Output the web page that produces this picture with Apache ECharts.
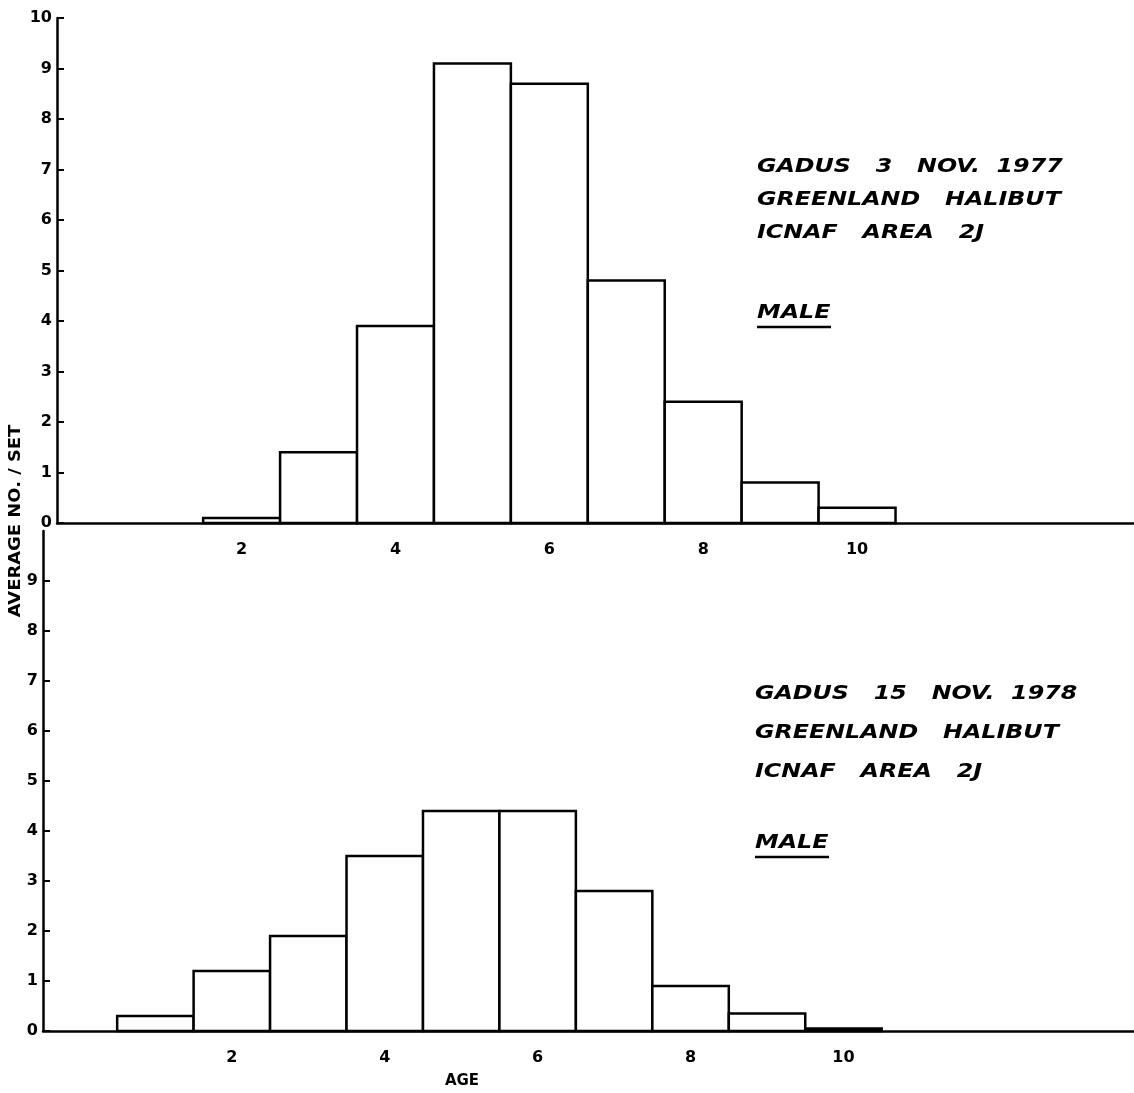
<!DOCTYPE html>
<html>
<head>
<meta charset="utf-8">
<script src="https://cdn.jsdelivr.net/npm/echarts@6/dist/echarts.min.js"></script>
<style>html,body{margin:0;padding:0;background:#fff;}#c{width:1134px;height:1093px;}</style>
</head>
<body>
<div id="c"></div>
<script>
// ---- data ----
const ages = [1, 2, 3, 4, 5, 6, 7, 8, 9, 10];
const male1977 = [null, 0.1, 1.4, 3.9, 9.1, 8.7, 4.8, 2.4, 0.8, 0.3];
const male1978 = [0.3, 1.2, 1.9, 3.5, 4.4, 4.4, 2.8, 0.9, 0.35, 0.05];
const ageTickLabels = [2, 4, 6, 8, 10];
const yTicksTop = [0, 1, 2, 3, 4, 5, 6, 7, 8, 9, 10];
const yTicksBottom = [0, 1, 2, 3, 4, 5, 6, 7, 8, 9];
const yTitle = 'AVERAGE NO. / SET';
const xTitle = 'AGE';
const note1977 = ['GADUS   3   NOV.  1977', 'GREENLAND   HALIBUT', 'ICNAF   AREA   2J'];
const note1978 = ['GADUS   15   NOV.  1978', 'GREENLAND   HALIBUT', 'ICNAF   AREA   2J'];
const sexLabel = 'MALE';

const FONT = '"DejaVu Sans", "Liberation Sans", sans-serif';

function toPairs(vals) {
  return ages.map((a, i) => [a, vals[i]]).filter(d => d[1] != null);
}

function renderBar(params, api) {
  const x = api.value(0), v = api.value(1);
  const p0 = api.coord([x - 0.5, v]);
  const p1 = api.coord([x + 0.5, 0]);
  return {
    type: 'rect',
    shape: { x: p0[0], y: p0[1], width: p1[0] - p0[0], height: p1[1] - p0[1] },
    style: { fill: '#fff', stroke: '#000', lineWidth: 2.5 }
  };
}

const axisLabelStyle = { color: '#000', fontFamily: FONT, fontWeight: 'bold', fontSize: 16 };

function xAxisCfg(gi, min, max) {
  return {
    type: 'value', gridIndex: gi, min: min, max: max,
    splitLine: { show: false },
    axisLine: { show: true, onZero: false, lineStyle: { color: '#000', width: 2.5 } },
    axisTick: { show: false },
    axisLabel: Object.assign({ customValues: ageTickLabels, margin: 19 }, axisLabelStyle)
  };
}

function yAxisCfg(gi, max, ticks) {
  return {
    type: 'value', gridIndex: gi, min: 0, max: max, interval: 1,
    splitLine: { show: false },
    axisLine: { show: true, onZero: false, lineStyle: { color: '#000', width: 2.5 } },
    axisTick: { show: true, inside: true, length: 7, lineStyle: { color: '#000', width: 2 }, customValues: ticks },
    axisLabel: Object.assign({ margin: 5, customValues: ticks }, axisLabelStyle)
  };
}

const noteStyle = { fill: '#000', font: 'italic bold 19px ' + FONT };

function noteBlock(lines, x, y0, dy, maleY) {
  const els = lines.map((t, i) => ({
    type: 'text', x: x, y: y0 + i * dy, scaleX: 1.25, style: Object.assign({ text: t, verticalAlign: 'middle' }, noteStyle)
  }));
  els.push({ type: 'text', x: x, y: maleY, scaleX: 1.25, style: Object.assign({ text: sexLabel, verticalAlign: 'middle' }, noteStyle) });
  els.push({ type: 'line', shape: { x1: x, y1: maleY + 14, x2: x + 74, y2: maleY + 14 }, style: { stroke: '#000', lineWidth: 2.5 } });
  return els;
}

const chart = echarts.init(document.getElementById('c'));
chart.setOption({
  backgroundColor: '#fff',
  animation: false,
  grid: [
    { left: 57, top: 18, right: 0, height: 505 },
    { left: 43, top: 531, right: 0, height: 500 }
  ],
  xAxis: [xAxisCfg(0, -0.4, 13.6), xAxisCfg(1, -0.47, 13.8)],
  yAxis: [yAxisCfg(0, 10, yTicksTop), yAxisCfg(1, 10, yTicksBottom)],
  series: [
    { type: 'custom', xAxisIndex: 0, yAxisIndex: 0, renderItem: renderBar, data: toPairs(male1977), encode: { x: 0, y: 1 } },
    { type: 'custom', xAxisIndex: 1, yAxisIndex: 1, renderItem: renderBar, data: toPairs(male1978), encode: { x: 0, y: 1 } }
  ],
  graphic: [
    {
      type: 'text', x: 16, y: 521, rotation: Math.PI / 2, scaleX: 1.12,
      style: { text: yTitle, fill: '#000', font: 'bold 16px ' + FONT, align: 'center', verticalAlign: 'middle' }
    },
    {
      type: 'text', x: 462, y: 1081,
      style: { text: xTitle, fill: '#000', font: 'bold 15px ' + FONT, align: 'center', verticalAlign: 'middle' }
    }
  ].concat(noteBlock(note1977, 757, 167, 33, 313))
   .concat(noteBlock(note1978, 755, 694, 39, 843))
});
</script>
</body>
</html>
